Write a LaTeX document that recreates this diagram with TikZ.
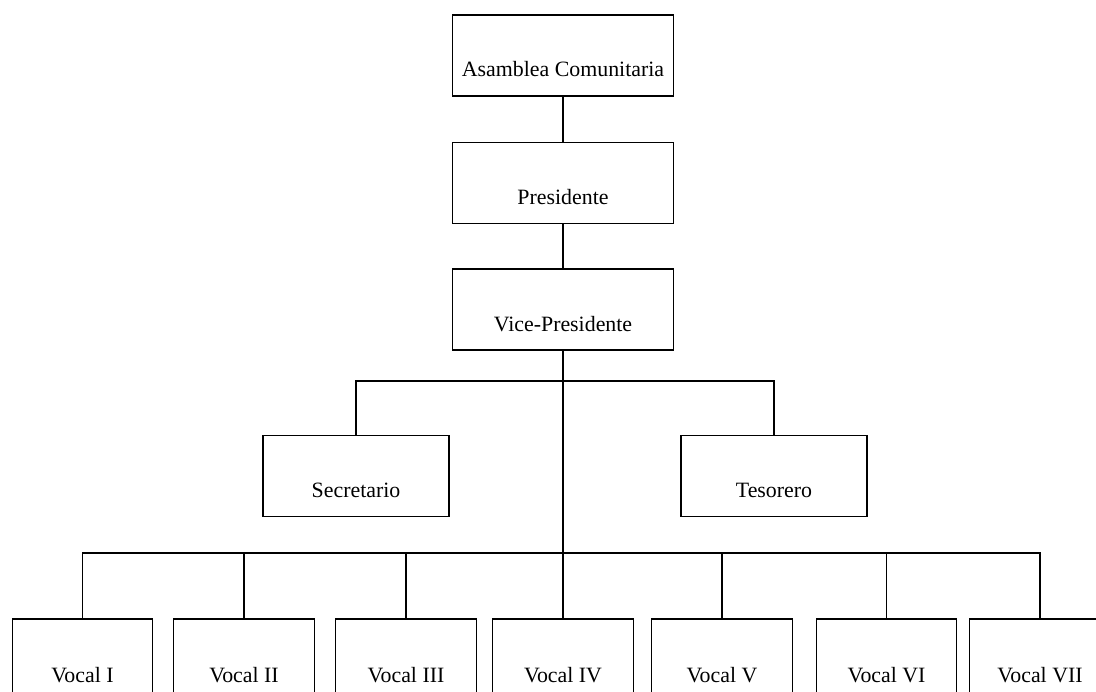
\documentclass[tikz,border=0pt]{standalone}
\usepackage{fontspec}
\setmainfont{Liberation Serif}
\begin{document}
\begin{tikzpicture}[x=0.75pt,y=-0.75pt,
	cargo/.style={draw,line width=0.9pt,inner sep=0pt,minimum width=165.75pt,text height=46.5pt,text depth=14.25pt,font=\fontsize{16.4pt}{19pt}\selectfont},
	cargomed/.style={cargo,minimum width=139.5pt},
	vocal/.style={cargo,minimum width=105.5pt,text height=47.25pt,text depth=12.75pt},
	enlace/.style={line width=0.9pt}]
	\useasboundingbox (0,0) rectangle (1096,692);
	\node[cargo] (asam) at (563,55.5) {Asamblea Comunitaria};
	\node[cargo] (pres) at (563,183) {Presidente};
	\node[cargo] (vice) at (563,309.5) {Vice-Presidente};
	\node[cargomed] (secr) at (356,476) {Secretario};
	\node[cargomed] (teso) at (774,476) {Tesorero};
	\foreach \nom/\x [count=\i] in {I/82.5,II/244,III/406,IV/563,V/722,VI/886.5,VII/1040}
		\node[vocal] (v\i) at (\x,659) {Vocal \nom};
	\coordinate (rama1) at (563,381);
	\coordinate (rama2) at (563,553);
	\draw[enlace] (asam) -- (pres);
	\draw[enlace] (pres) -- (vice);
	\draw[enlace] (vice.south) -- (v4.north);
	\draw[enlace] (secr.north) |- (rama1) -| (teso.north);
	\draw[enlace] (v1.north) |- (rama2) -| (v7.north);
	\foreach \i in {2,3,5,6}
		\draw[enlace] (v\i.north) -- (v\i.north |- rama2);
\end{tikzpicture}
\end{document}
